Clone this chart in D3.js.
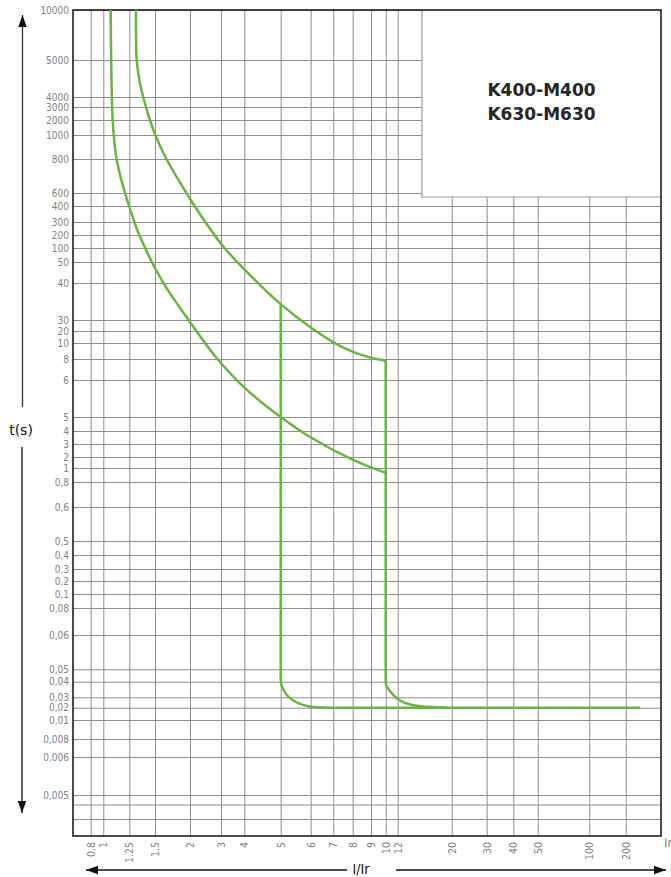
<!DOCTYPE html>
<html>
<head>
<meta charset="utf-8">
<script src="https://cdn.jsdelivr.net/npm/d3@7"></script>
<style>
  body { margin: 0; background: #fff; }
  svg { display: block; }
</style>
</head>
<body>
<div id="chart"></div>
<script>
// tick values of the I/Ir axis and their labels
var xTicks = [0.8, 1, 1.25, 1.5, 2, 3, 4, 5, 6, 7, 8, 9, 10, 12, 20, 30, 40, 50, 100, 200];
var xLabels = ["0.8", "1", "1.25", "1.5", "2", "3", "4", "5", "6", "7", "8", "9", "10", "12", "20", "30", "40", "50", "100", "200"];

// tick values of the t(s) axis and their labels (last two lines carry no label)
var yTicks = [10000, 5000, 4000, 3000, 2000, 1000, 800, 600, 400, 300, 200, 100, 50, 40, 30, 20, 10, 8, 6, 5, 4, 3, 2, 1,
  0.8, 0.6, 0.5, 0.4, 0.3, 0.2, 0.1, 0.08, 0.06, 0.05, 0.04, 0.03, 0.02, 0.01, 0.008, 0.006, 0.005, 0.004, 0.003];
var yLabels = ["10000", "5000", "4000", "3000", "2000", "1000", "800", "600", "400", "300", "200", "100", "50", "40", "30", "20", "10", "8", "6", "5", "4", "3", "2", "1",
  "0,8", "0,6", "0,5", "0,4", "0,3", "0,2", "0,1", "0,08", "0,06", "0,05", "0,04", "0,03", "0,02", "0,01", "0,008", "0,006", "0,005", "", ""];

// upper tripping curve (I/Ir, t)
var curveUpper = [
  {i: 1.315, t: 10000}, {i: 1.322, t: 5000}, {i: 1.34, t: 4595}, {i: 1.364, t: 4243}, {i: 1.393, t: 3700},
  {i: 1.435, t: 2385}, {i: 1.484, t: 1333}, {i: 1.566, t: 917}, {i: 1.671, t: 794}, {i: 1.843, t: 671},
  {i: 2.065, t: 461}, {i: 2.516, t: 292}, {i: 3.043, t: 123}, {i: 3.815, t: 48.6}, {i: 4.431, t: 39.5},
  {i: 5, t: 34.3}, {i: 5.98, t: 23.6}, {i: 6.99, t: 10.8}, {i: 8.02, t: 8.88}, {i: 8.945, t: 8.19}, {i: 10, t: 7.84}
];

// lower tripping curve
var curveLower = [
  {i: 1.071, t: 10000}, {i: 1.076, t: 5000}, {i: 1.09, t: 2000}, {i: 1.122, t: 833}, {i: 1.161, t: 706},
  {i: 1.209, t: 600}, {i: 1.267, t: 362}, {i: 1.335, t: 223}, {i: 1.413, t: 92.9}, {i: 1.5, t: 47.1},
  {i: 1.657, t: 38.9}, {i: 1.829, t: 34.05}, {i: 2, t: 28.2}, {i: 2.484, t: 10}, {i: 2.968, t: 7.71},
  {i: 4.02, t: 5.78}, {i: 5, t: 5}, {i: 5.98, t: 3.54}, {i: 8.02, t: 1.73}, {i: 10, t: 0.93}
];

// instantaneous drops at 5 x Ir and 10 x Ir
var drop5 = [{i: 5, t: 34.3}, {i: 5, t: 0.041}, {i: 5.09, t: 0.035}, {i: 5.42, t: 0.027}, {i: 5.98, t: 0.021}, {i: 7, t: 0.02}];
var drop10 = [{i: 10, t: 7.84}, {i: 10, t: 0.04}, {i: 11, t: 0.0327}, {i: 12.8, t: 0.0253}, {i: 15.3, t: 0.0213}, {i: 19.3, t: 0.02}];
var flat = [{i: 7, t: 0.02}, {i: 240, t: 0.02}];

var legendLines = ["K400-M400", "K630-M630"];

// ---- layout ----
var svgWidth = 671, svgHeight = 877;
var margin = {top: 10, left: 73};
var width = 588, height = 826;

// the printed grid is not a true log grid: each tick has its own place
var xTickPos = [17.7, 30.3, 56.3, 82, 117, 148, 171.3, 207.7, 237.7, 260.3, 279.7, 298, 312.7, 324.7, 378.7, 413.7, 440.3, 464.7, 516.3, 552.7];
var yTickPos = [0, 50, 87, 97, 110, 125, 149, 183, 196, 212, 225, 238, 252, 273, 310, 321, 333, 349, 370, 407, 421, 434, 447, 458,
  472, 497, 531, 545, 559, 571, 584, 598, 625, 659.3, 671.7, 687.3, 697.7, 710, 729, 747, 785, 794.5, 809];

var svg = d3.select("#chart").append("svg")
  .attr("width", svgWidth)
  .attr("height", svgHeight);

var g = svg.append("g").attr("transform", `translate(${margin.left},${margin.top})`);

var xScale = d3.scaleLinear().domain(xTicks).range(xTickPos);
var yScale = d3.scaleLinear().domain(yTicks).range(yTickPos);

var tickFont = "'Liberation Sans Narrow', 'DejaVu Sans Condensed', sans-serif";

// horizontal grid + y labels
var yAxis = d3.axisLeft(yScale)
  .tickValues(yTicks)
  .tickFormat((d, i) => yLabels[i])
  .tickSize(-width)
  .tickPadding(4);

var yG = g.append("g").call(yAxis);
yG.select(".domain").remove();
yG.selectAll(".tick line").attr("stroke", "#8e8e8e").attr("stroke-width", 1);
yG.selectAll(".tick text")
  .attr("fill", "#808080")
  .style("font-family", tickFont)
  .style("font-size", "10px");

// vertical grid + x labels
var xAxis = d3.axisBottom(xScale)
  .tickValues(xTicks)
  .tickFormat((d, i) => xLabels[i])
  .tickSize(-height)
  .tickPadding(0);

var xG = g.append("g").attr("transform", `translate(0,${height})`).call(xAxis);
xG.select(".domain").remove();
xG.selectAll(".tick line").attr("stroke", "#8e8e8e").attr("stroke-width", 1);
xG.selectAll(".tick text")
  .attr("fill", "#808080")
  .style("font-family", tickFont)
  .style("font-size", "10.5px")
  .attr("text-anchor", "end")
  .attr("transform", "rotate(-90)")
  .attr("x", -6)
  .attr("y", 0)
  .attr("dy", "0.35em");

// legend box covering the grid
var legX = 349, legH = 187;
g.append("rect")
  .attr("x", legX)
  .attr("y", 0)
  .attr("width", width - legX)
  .attr("height", legH)
  .attr("fill", "#fff");
g.append("path")
  .attr("d", `M${legX},0V${legH}H${width}`)
  .attr("fill", "none")
  .attr("stroke", "#9a9a9a")
  .attr("stroke-width", 1.2);

g.selectAll(".legtext")
  .data(legendLines)
  .enter()
  .append("text")
  .attr("class", "legtext")
  .attr("x", legX + (width - legX) / 2)
  .attr("y", (d, i) => 86 + i * 24)
  .attr("text-anchor", "middle")
  .attr("fill", "#262626")
  .style("font-family", "'DejaVu Sans', sans-serif")
  .style("font-weight", "600")
  .style("font-size", "17px")
  .text(d => d);

// frame
g.append("rect")
  .attr("width", width)
  .attr("height", height)
  .attr("fill", "none")
  .attr("stroke", "#1e1e1e")
  .attr("stroke-width", 1.6);

// curves
var green = "#6ab344";
var lineC = d3.line().x(d => xScale(d.i)).y(d => yScale(d.t)).curve(d3.curveCatmullRom.alpha(0.5));
var lineY = d3.line().x(d => xScale(d.i)).y(d => yScale(d.t)).curve(d3.curveMonotoneY);
var lineL = d3.line().x(d => xScale(d.i)).y(d => yScale(d.t));

function drawCurve(data, gen) {
  g.append("path")
    .datum(data)
    .attr("d", gen)
    .attr("fill", "none")
    .attr("stroke", green)
    .attr("stroke-width", 2.5)
    .attr("stroke-linejoin", "round");
}
drawCurve(curveUpper, lineC);
drawCurve(curveLower, lineC);
drawCurve(drop5, lineY);
drawCurve(drop10, lineY);
drawCurve(flat, lineL);

// axis arrows and titles
var defs = svg.append("defs");
defs.append("marker")
  .attr("id", "arrow")
  .attr("viewBox", "0 0 10 10")
  .attr("refX", 10)
  .attr("refY", 5)
  .attr("markerWidth", 12)
  .attr("markerHeight", 12)
  .attr("markerUnits", "userSpaceOnUse")
  .attr("orient", "auto")
  .append("path")
  .attr("d", "M0,1.5L10,5L0,8.5Z")
  .attr("fill", "#111");

svg.append("line")
  .attr("x1", 22.5).attr("y1", 407).attr("x2", 22.5).attr("y2", 15)
  .attr("stroke", "#333").attr("stroke-width", 1.3)
  .attr("marker-end", "url(#arrow)");
svg.append("line")
  .attr("x1", 22).attr("y1", 447).attr("x2", 22).attr("y2", 813)
  .attr("stroke", "#111").attr("stroke-width", 1.3)
  .attr("marker-end", "url(#arrow)");
svg.append("text")
  .attr("x", 21).attr("y", 435)
  .attr("text-anchor", "middle")
  .attr("fill", "#111")
  .style("font-family", "'DejaVu Sans', sans-serif")
  .style("font-size", "14px")
  .text("t(s)");

svg.append("line")
  .attr("x1", 347).attr("y1", 870).attr("x2", 86).attr("y2", 870)
  .attr("stroke", "#111").attr("stroke-width", 1.3)
  .attr("marker-end", "url(#arrow)");
svg.append("line")
  .attr("x1", 396).attr("y1", 870).attr("x2", 666).attr("y2", 870)
  .attr("stroke", "#111").attr("stroke-width", 1.3)
  .attr("marker-end", "url(#arrow)");
svg.append("text")
  .attr("x", 361).attr("y", 874)
  .attr("text-anchor", "middle")
  .attr("fill", "#111")
  .style("font-family", tickFont)
  .style("font-size", "14px")
  .text("I/Ir");

svg.append("text")
  .attr("x", 664).attr("y", 847)
  .attr("fill", "#808080")
  .style("font-family", tickFont)
  .style("font-size", "13px")
  .text("Ir");
</script>
</body>
</html>
